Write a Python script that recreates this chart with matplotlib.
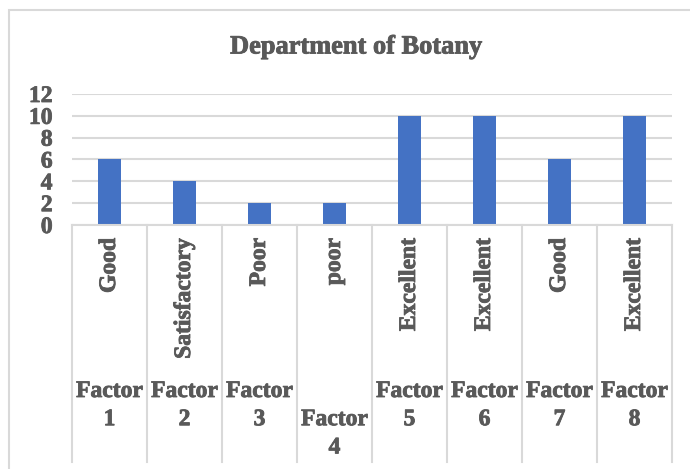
import matplotlib
matplotlib.use("Agg")
import matplotlib.pyplot as plt
from matplotlib.patches import Rectangle
from matplotlib.lines import Line2D
import matplotlib.patheffects as pe

# ---- data ----
factors = ["Factor 1", "Factor 2", "Factor 3", "Factor 4",
           "Factor 5", "Factor 6", "Factor 7", "Factor 8"]
ratings = ["Good", "Satisfactory", "Poor", "poor",
           "Excellent", "Excellent", "Good", "Excellent"]
scores = [6, 4, 2, 2, 10, 10, 6, 10]
yticks = [0, 2, 4, 6, 8, 10, 12]
title = "Department of Botany"

W, H = 690, 469
fig = plt.figure(figsize=(W / 100, H / 100), dpi=100)
plt.rcParams['font.family'] = ['Liberation Serif', 'DejaVu Serif']
txt = '#595959'
grid = '#D9D9D9'
FS = 17
thick = [pe.withStroke(linewidth=0.6, foreground=txt)]

def fx(px):
    return px / W

def fy(py):
    return 1 - py / H

# chart border
fig.patches.append(Rectangle((fx(9), fy(H + 20)), fx(W + 20), fy(10) - fy(H + 20),
                             transform=fig.transFigure, fill=False,
                             edgecolor=grid, linewidth=1.5))

left, right, top, bottom = 72, 672, 94, 225
ax = fig.add_axes([fx(left), fy(bottom), fx(right - left), fy(top) - fy(bottom)])
x = list(range(len(factors)))
ax.bar(x, scores, width=0.31, color='#4472C4', zorder=3)
ax.set_xlim(-0.5, len(factors) - 0.5)
ax.set_ylim(0, 12)
ax.set_yticks(yticks)
ax.set_yticklabels([str(v) for v in yticks], fontsize=FS, fontweight='bold', color=txt)
for t in ax.get_yticklabels():
    t.set_path_effects(thick)
ax.tick_params(axis='y', length=0, pad=14)
ax.tick_params(axis='x', length=0, labelbottom=False)
for s in ax.spines.values():
    s.set_visible(False)
ax.grid(axis='y', color=grid, linewidth=1.5, zorder=0)
ax.set_xticks([])

# category axis
sep_bottom = 462
fig.lines.append(Line2D([fx(left), fx(right)], [fy(bottom), fy(bottom)],
                        transform=fig.transFigure, color=grid, linewidth=1.5))
cw = (right - left) / len(factors)
for i in range(len(factors) + 1):
    xp = left + i * cw
    fig.lines.append(Line2D([fx(xp), fx(xp)], [fy(bottom), fy(sep_bottom)],
                            transform=fig.transFigure, color=grid, linewidth=1.5))

extra_lines = {3: 1}
for i, (f, r) in enumerate(zip(factors, ratings)):
    cx = left + (i + 0.5) * cw
    fig.text(fx(cx), fy(238), r, rotation=90, ha='center', va='top',
             fontsize=FS, fontweight='bold', color=txt, path_effects=thick)
    label = "\n" * extra_lines.get(i, 0) + f.replace(" ", "\n")
    fig.text(fx(cx), fy(381), label, ha='center', va='top', linespacing=1.45,
             fontsize=FS, fontweight='bold', color=txt, path_effects=thick)

fig.text(fx(356), fy(47), title, ha='center', va='center',
         fontsize=19, fontweight='bold', color=txt, path_effects=thick)

fig.savefig("out.png", dpi=100)
